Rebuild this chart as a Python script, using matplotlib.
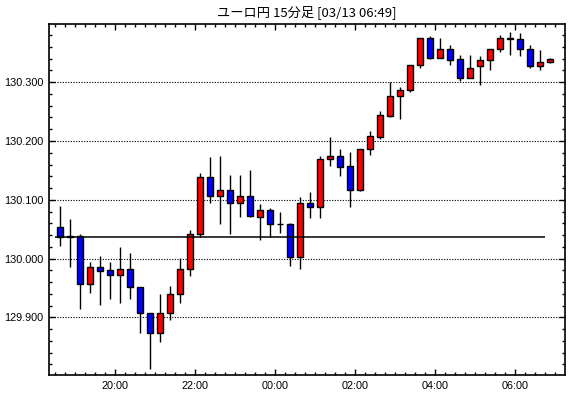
import matplotlib
matplotlib.use("Agg")
import numpy as np
from matplotlib import pyplot as plt
from matplotlib.ticker import FixedLocator, MultipleLocator

# 15分足 ユーロ円 18:30 - 06:45
opens = [130.053, 130.036, 130.039, 129.957, 129.985, 129.980, 129.972, 129.982, 129.952, 129.908,
         129.874, 129.908, 129.940, 129.982, 130.041, 130.138, 130.107, 130.117, 130.094, 130.106,
         130.071, 130.083, 130.058, 130.058, 130.003, 130.094, 130.088, 130.169, 130.174, 130.157,
         130.117, 130.187, 130.207, 130.243, 130.277, 130.286, 130.329, 130.376, 130.341, 130.356,
         130.339, 130.307, 130.327, 130.337, 130.356, 130.376, 130.373, 130.356, 130.327, 130.334]
highs = [130.090, 130.067, 130.041, 129.994, 130.005, 129.994, 130.019, 130.009, 129.952, 129.908,
         129.939, 129.954, 130.001, 130.048, 130.145, 130.172, 130.174, 130.142, 130.142, 130.150,
         130.092, 130.086, 130.079, 130.060, 130.104, 130.113, 130.174, 130.207, 130.186, 130.181,
         130.187, 130.217, 130.251, 130.300, 130.291, 130.329, 130.376, 130.378, 130.375, 130.363,
         130.346, 130.346, 130.344, 130.357, 130.380, 130.386, 130.383, 130.364, 130.354, 130.342]
lows = [130.021, 129.985, 129.915, 129.941, 129.921, 129.932, 129.924, 129.931, 129.873, 129.812,
        129.858, 129.896, 129.925, 129.970, 130.037, 130.094, 130.058, 130.041, 130.071, 130.070,
        130.032, 130.036, 130.043, 129.987, 129.982, 130.069, 130.069, 130.157, 130.140, 130.088,
        130.115, 130.176, 130.204, 130.241, 130.238, 130.284, 130.325, 130.340, 130.341, 130.330,
        130.302, 130.307, 130.295, 130.321, 130.352, 130.347, 130.344, 130.324, 130.321, 130.332]
closes = [130.036, 130.039, 129.957, 129.985, 129.979, 129.972, 129.982, 129.952, 129.907, 129.874,
          129.908, 129.940, 129.982, 130.041, 130.138, 130.107, 130.117, 130.094, 130.106, 130.073,
          130.083, 130.058, 130.058, 130.003, 130.094, 130.088, 130.169, 130.174, 130.156, 130.117,
          130.187, 130.208, 130.244, 130.277, 130.286, 130.329, 130.376, 130.341, 130.356, 130.338,
          130.307, 130.325, 130.337, 130.356, 130.376, 130.373, 130.356, 130.327, 130.334, 130.339]
hour_labels = ["20:00", "22:00", "00:00", "02:00", "04:00", "06:00"]
ref_price = 130.036
title = "ユーロ円 15分足 [03/13 06:49]"

o = np.array(opens)
h = np.array(highs)
l = np.array(lows)
c = np.array(closes)
x = np.arange(len(o))
colors = np.where(c >= o, "#ff0000", "#0000ff")

fig = plt.figure(figsize=(5.7, 3.98), dpi=100)
ax = fig.add_axes([49 / 570, 23 / 398, 516 / 570, 351 / 398])

ax.vlines(x, l, h, color="black", linewidth=1.0, zorder=2)
ax.bar(x, np.abs(c - o), bottom=np.minimum(o, c), width=0.6, color=colors,
       edgecolor="black", linewidth=1.0, zorder=3)
ax.hlines(ref_price, -0.5, len(o) - 1.5, color="black", linewidth=1.1, zorder=4)

ax.set_xlim(-1.1, 50.5)
ax.set_ylim(129.802, 130.399)

major_x = [5.5 + 8 * k for k in range(len(hour_labels))]
ax.xaxis.set_major_locator(FixedLocator(major_x))
ax.xaxis.set_minor_locator(FixedLocator(np.arange(-0.5, 50.5, 1.0)))
ax.set_xticklabels(hour_labels)
ax.yaxis.set_major_locator(MultipleLocator(0.1))
ax.yaxis.set_minor_locator(MultipleLocator(0.02))
ax.yaxis.set_major_formatter(matplotlib.ticker.FormatStrFormatter("%.3f"))

ax.tick_params(which="both", direction="in", top=True, right=True, labelsize=7.8, pad=4)
ax.tick_params(which="major", length=4, width=1)
ax.tick_params(which="minor", length=2, width=1)
for lab in ax.get_xticklabels() + ax.get_yticklabels():
    lab.set_family("Liberation Sans")

ax.grid(axis="y", which="major", linestyle=(0, (1, 1.4)), color="black", linewidth=0.8)
for s in ax.spines.values():
    s.set_linewidth(1.2)

fig.text(307 / 570, 1 - 12 / 398, title, ha="center", va="center", fontsize=9.5,
         family=["Noto Sans CJK JP", "DejaVu Sans"])

plt.savefig("out.png", dpi=100)
